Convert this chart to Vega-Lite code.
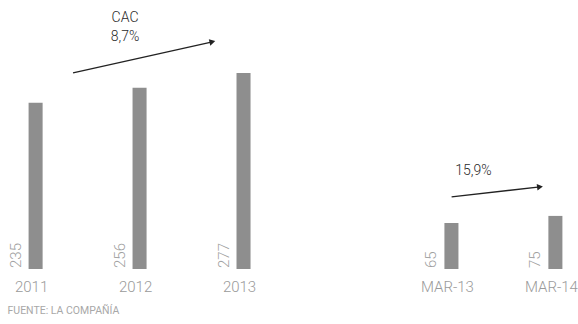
{
  "$schema": "https://vega.github.io/schema/vega-lite/v6.json",
  "width": 578,
  "height": 269,
  "autosize": "none",
  "padding": {"top": 0, "left": 0, "right": 0, "bottom": 55},
  "background": "white",
  "config": {"view": {"stroke": null}, "font": "Roboto"},
  "datasets": {
    "ventas": [
      {"periodo": "2011", "valor": 235},
      {"periodo": "2012", "valor": 256},
      {"periodo": "2013", "valor": 277},
      {"periodo": "MAR-13", "valor": 65},
      {"periodo": "MAR-14", "valor": 75}
    ],
    "flechas": [
      {"tramo": "anual", "x0": 0.36, "y0": 277, "x1": 1.7, "y1": 321},
      {"tramo": "trimestral", "x0": 4.0, "y0": 102, "x1": 4.85, "y1": 116}
    ],
    "notas": [
      {"texto": "CAC", "xs": 0.86, "ys": 354},
      {"texto": "8,7%", "xs": 0.86, "ys": 328},
      {"texto": "15,9%", "xs": 4.21, "ys": 139}
    ]
  },
  "layer": [
    {
      "data": {"name": "ventas"},
      "layer": [
        {
          "mark": {"type": "bar", "color": "#8e8e8e"},
          "encoding": {
            "x": {
              "field": "periodo",
              "type": "ordinal",
              "sort": null,
              "scale": {
                "domain": ["2011", "2012", "2013", " ", "MAR-13", "MAR-14"],
                "range": [0, 591],
                "paddingInner": 0.865,
                "paddingOuter": 0.275
              },
              "axis": {
                "title": null,
                "domain": false,
                "ticks": false,
                "labelAngle": 0,
                "labelPadding": 10,
                "labelFontSize": 15,
                "labelColor": "#9a9a9a",
                "labelFont": "Roboto",
                "labelFontWeight": 300,
                "labelOffset": -4
              }
            },
            "y": {
              "field": "valor",
              "type": "quantitative",
              "scale": {"domain": [0, 380], "nice": false},
              "axis": null
            }
          }
        },
        {
          "mark": {
            "type": "text",
            "angle": 270,
            "align": "left",
            "baseline": "middle",
            "xOffset": -20,
            "dx": 1,
            "fontSize": 15,
            "fontWeight": 300,
            "color": "#a0a0a0"
          },
          "encoding": {
            "x": {"field": "periodo", "type": "ordinal", "sort": null},
            "y": {"datum": 0, "type": "quantitative"},
            "text": {"field": "valor", "type": "quantitative"}
          }
        }
      ]
    },
    {
      "layer": [
        {
          "data": {"name": "flechas"},
          "mark": {"type": "rule", "color": "#222222", "strokeWidth": 1.3},
          "encoding": {
            "x": {"field": "x0", "type": "quantitative", "scale": {"domain": [-0.3423, 5.2154], "nice": false, "zero": false}, "axis": null},
            "y": {"field": "y0", "type": "quantitative"},
            "x2": {"field": "x1"},
            "y2": {"field": "y1"}
          }
        },
        {
          "data": {"name": "flechas"},
          "transform": [{"filter": "datum.tramo == 'anual'"}],
          "mark": {"type": "point", "shape": "triangle-right", "filled": true, "color": "#222222", "size": 45, "angle": -12.8, "opacity": 1},
          "encoding": {
            "x": {"field": "x1", "type": "quantitative"},
            "y": {"field": "y1", "type": "quantitative"}
          }
        },
        {
          "data": {"name": "flechas"},
          "transform": [{"filter": "datum.tramo == 'trimestral'"}],
          "mark": {"type": "point", "shape": "triangle-right", "filled": true, "color": "#222222", "size": 45, "angle": -7, "opacity": 1},
          "encoding": {
            "x": {"field": "x1", "type": "quantitative"},
            "y": {"field": "y1", "type": "quantitative"}
          }
        },
        {
          "data": {"name": "notas"},
          "mark": {"type": "text", "fontSize": 14, "fontWeight": 300, "color": "#2a2a2a", "align": "center", "baseline": "middle"},
          "encoding": {
            "x": {"field": "xs", "type": "quantitative"},
            "y": {"field": "ys", "type": "quantitative"},
            "text": {"field": "texto"}
          }
        },
        {
          "data": {"values": [{"texto": "FUENTE: LA COMPAÑÍA", "xs": -0.27, "ys": -59}]},
          "mark": {"type": "text", "fontSize": 10.5, "color": "#a8a8a8", "align": "left", "baseline": "middle"},
          "encoding": {
            "x": {"field": "xs", "type": "quantitative"},
            "y": {"field": "ys", "type": "quantitative"},
            "text": {"field": "texto"}
          }
        }
      ]
    }
  ],
  "resolve": {"scale": {"x": "independent"}, "axis": {"x": "independent"}}
}
